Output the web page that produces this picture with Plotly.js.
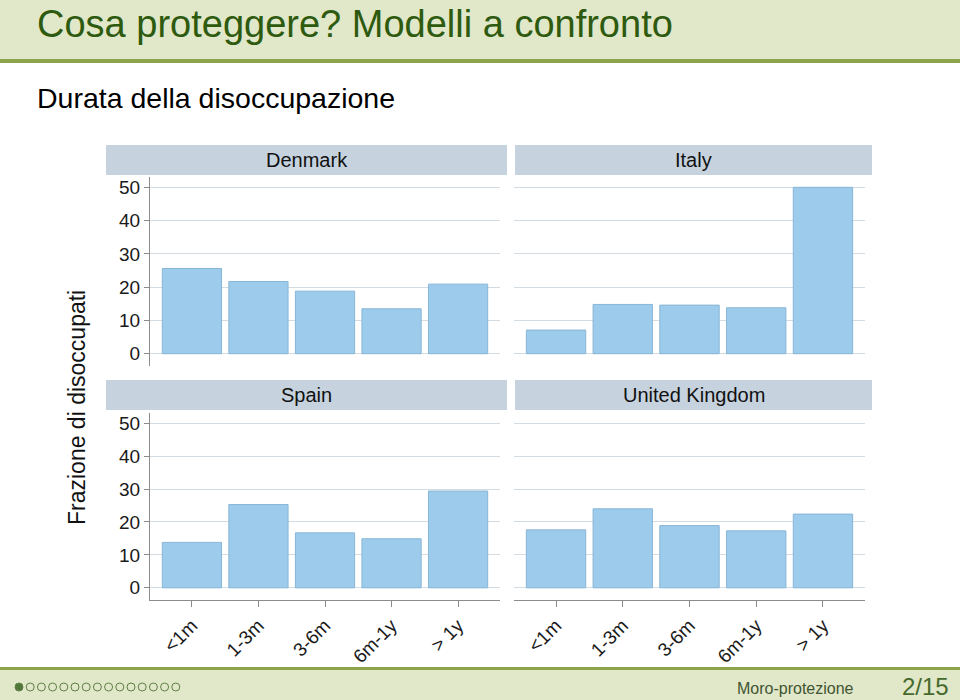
<!DOCTYPE html>
<html>
<head>
<meta charset="utf-8">
<script src="https://cdn.plot.ly/plotly-3.0.1.min.js"></script>
<style>html,body{margin:0;padding:0;background:#fff;}#chart{width:960px;height:700px;}</style>
</head>
<body>
<div id="chart"></div>
<script>
// ---- data ----
const categories = ['<1m', '1-3m', '3-6m', '6m-1y', '> 1y'];
const countries = ['Denmark', 'Italy', 'Spain', 'United Kingdom'];
const denmark = [25.6, 21.7, 18.8, 13.5, 20.9];
const italy = [7.1, 14.8, 14.6, 13.8, 50.0];
const spain = [13.8, 25.3, 16.7, 14.9, 29.4];
const uk = [17.6, 24.0, 18.9, 17.3, 22.4];
const yTicks = [0, 10, 20, 30, 40, 50];
const yTitle = 'Frazione di disoccupati';
const slideTitle = 'Cosa proteggere? Modelli a confronto';
const slideSubtitle = 'Durata della disoccupazione';
const footerText = 'Moro-protezione';
const pageText = '2/15';
const totalDots = 15;

// ---- helpers (pixel -> paper) ----
const W = 960, H = 700;
const px = v => v / W;
const py = v => 1 - v / H;

const FONT = 'Liberation Sans, Arial, Helvetica, sans-serif';
const barColor = '#9dcbeb';
const barLine = '#88b6d6';
const gridColor = '#d3dbe3';
const axisColor = '#8c8c8c';
const stripColor = '#c6d3df';

const seriesList = [denmark, italy, spain, uk];
const traces = seriesList.map((vals, i) => ({
  type: 'bar',
  x: categories,
  y: vals,
  xaxis: i === 0 ? 'x' : 'x' + (i + 1),
  yaxis: i === 0 ? 'y' : 'y' + (i + 1),
  marker: {color: barColor, line: {color: barLine, width: 1}},
  hoverinfo: 'skip',
  showlegend: false
}));

const colsPx = [[150, 500], [514, 865]];
const rowsPx = [[177, 366], [413, 600]];

function xAxis(col, bottom, anchor) {
  return {
    domain: [px(colsPx[col][0]), px(colsPx[col][1])],
    anchor: anchor,
    type: 'category',
    range: [-0.63, 4.63],
    showgrid: false,
    zeroline: false,
    showline: bottom,
    linecolor: axisColor,
    linewidth: 1,
    ticks: bottom ? 'outside' : '',
    ticklen: 6,
    tickcolor: axisColor,
    showticklabels: bottom,
    tickangle: -45,
    tickfont: {family: FONT, size: 19, color: '#1a1a1a'},
    fixedrange: true
  };
}
function yAxis(row, left, anchor) {
  return {
    domain: [py(rowsPx[row][1]), py(rowsPx[row][0])],
    anchor: anchor,
    range: [-3.7, 53.1],
    tickvals: yTicks,
    showgrid: true,
    gridcolor: gridColor,
    gridwidth: 1,
    zeroline: false,
    showline: left,
    linecolor: axisColor,
    linewidth: 1,
    ticks: left ? 'outside' : '',
    ticklen: 5,
    tickcolor: axisColor,
    showticklabels: left,
    tickfont: {family: FONT, size: 19, color: '#1a1a1a'},
    fixedrange: true
  };
}

const shapes = [];
// header band
shapes.push({type: 'rect', xref: 'paper', yref: 'paper', x0: 0, x1: 1, y0: py(59), y1: 1,
  fillcolor: '#e1e7c9', line: {width: 0}, layer: 'below'});
shapes.push({type: 'rect', xref: 'paper', yref: 'paper', x0: 0, x1: 1, y0: py(63), y1: py(59),
  fillcolor: '#8ca54a', line: {width: 0}, layer: 'below'});
// footer band
shapes.push({type: 'rect', xref: 'paper', yref: 'paper', x0: 0, x1: 1, y0: 0, y1: py(670),
  fillcolor: '#e1e7c9', line: {width: 0}, layer: 'below'});
shapes.push({type: 'rect', xref: 'paper', yref: 'paper', x0: 0, x1: 1, y0: py(670), y1: py(667),
  fillcolor: '#8ca54a', line: {width: 0}, layer: 'below'});

// strips
const stripPx = [
  {x0: 106, x1: 507, y0: 145, y1: 175},
  {x0: 515, x1: 872, y0: 145, y1: 175},
  {x0: 106, x1: 507, y0: 380, y1: 410},
  {x0: 515, x1: 872, y0: 380, y1: 410}
];
stripPx.forEach(s => shapes.push({type: 'rect', xref: 'paper', yref: 'paper',
  x0: px(s.x0), x1: px(s.x1), y0: py(s.y1), y1: py(s.y0),
  fillcolor: stripColor, line: {width: 0}, layer: 'below'}));

// navigation dots
for (let i = 0; i < totalDots; i++) {
  const cx = 19 + i * 11.2, cy = 687, r = 4;
  shapes.push({type: 'circle', xref: 'paper', yref: 'paper',
    x0: px(cx - r), x1: px(cx + r), y0: py(cy + r), y1: py(cy - r),
    fillcolor: i === 0 ? '#52773a' : 'rgba(0,0,0,0)',
    line: {color: '#5f7f46', width: 1}});
}

const annotations = [];
stripPx.forEach((s, i) => annotations.push({
  xref: 'paper', yref: 'paper', x: px((s.x0 + s.x1) / 2), y: py((s.y0 + s.y1) / 2),
  xanchor: 'center', yanchor: 'middle', showarrow: false,
  text: countries[i], font: {family: FONT, size: 20, color: '#111'}
}));
annotations.push({xref: 'paper', yref: 'paper', x: px(77), y: py(408), textangle: -90,
  xanchor: 'center', yanchor: 'middle', showarrow: false, text: yTitle,
  font: {family: FONT, size: 23, color: '#111'}});
annotations.push({xref: 'paper', yref: 'paper', x: px(35), y: py(24),
  xanchor: 'left', yanchor: 'middle', showarrow: false, text: slideTitle,
  font: {family: FONT, size: 38, color: '#2e5a0f'}});
annotations.push({xref: 'paper', yref: 'paper', x: px(35), y: py(98),
  xanchor: 'left', yanchor: 'middle', showarrow: false, text: slideSubtitle,
  font: {family: FONT, size: 28.5, color: '#000'}});
annotations.push({xref: 'paper', yref: 'paper', x: px(856), y: py(688),
  xanchor: 'right', yanchor: 'middle', showarrow: false, text: footerText,
  font: {family: FONT, size: 16, color: '#3f5531'}});
annotations.push({xref: 'paper', yref: 'paper', x: px(951), y: py(686),
  xanchor: 'right', yanchor: 'middle', showarrow: false, text: pageText,
  font: {family: FONT, size: 24, color: '#456a2c'}});

const layout = {
  width: W, height: H,
  margin: {l: 0, r: 0, t: 0, b: 0},
  paper_bgcolor: '#ffffff',
  plot_bgcolor: 'rgba(0,0,0,0)',
  bargap: 0.11,
  showlegend: false,
  xaxis: xAxis(0, false, 'y'), yaxis: yAxis(0, true, 'x'),
  xaxis2: xAxis(1, false, 'y2'), yaxis2: yAxis(0, false, 'x2'),
  xaxis3: xAxis(0, true, 'y3'), yaxis3: yAxis(1, true, 'x3'),
  xaxis4: xAxis(1, true, 'y4'), yaxis4: yAxis(1, false, 'x4'),
  shapes: shapes,
  annotations: annotations
};

Plotly.newPlot('chart', traces, layout, {staticPlot: true, displayModeBar: false});
</script>
</body>
</html>
